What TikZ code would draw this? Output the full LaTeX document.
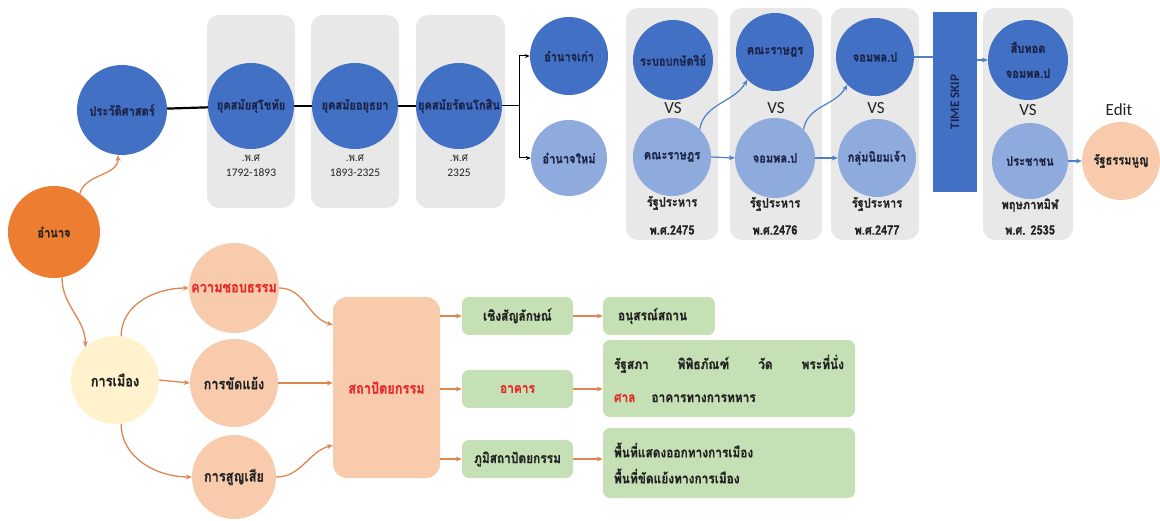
\documentclass[tikz,border=0pt]{standalone}
\usepackage{fontspec}
\setmainfont{Carlito}
\newfontfamily\thaifont[Script=Thai,FakeStretch=0.85,BoldFeatures={FakeBold=0.6}]{Loma}
\usetikzlibrary{arrows.meta}
\definecolor{dblue}{RGB}{66,112,196}
\definecolor{lblue}{RGB}{143,170,220}
\definecolor{boxgray}{RGB}{232,232,232}
\definecolor{orng}{RGB}{237,125,49}
\definecolor{peach}{RGB}{248,203,173}
\definecolor{pyellow}{RGB}{255,242,204}
\definecolor{lgreen}{RGB}{197,224,180}
\definecolor{navy}{RGB}{28,36,72}
\definecolor{oarrow}{RGB}{223,134,80}
\definecolor{barrow}{RGB}{79,127,200}
\definecolor{txtred}{RGB}{230,40,40}
\definecolor{dk}{RGB}{35,35,35}
\begin{document}
\begin{tikzpicture}[x=1pt,y=-1pt,
  thb/.style={font=\thaifont\bfseries\fontsize{13}{15}\selectfont},
  thbb/.style={font=\thaifont\bfseries\fontsize{15}{17}\selectfont},
  thbg/.style={font=\thaifont\bfseries\fontsize{14}{16}\selectfont},
  dcirc/.style={circle,fill=dblue,inner sep=0pt,thb,text=navy,align=center},
  lcirc/.style={circle,fill=lblue,inner sep=0pt,thb,text=navy,align=center},
  pcirc/.style={circle,fill=peach,inner sep=0pt,thb,text=dk},
  graybox/.style={fill=boxgray,rounded corners=12pt,inner sep=0pt},
  vstxt/.style={font=\fontsize{17}{19}\selectfont,text=dk},
  datetxt/.style={font=\fontsize{11.5}{15}\selectfont,text=dk,align=center},
  subtxt/.style={thb,text=dk},
  gbox/.style={fill=lgreen,rounded corners=7pt,thbg,text=dk,inner sep=0pt},
  oarr/.style={draw=oarrow,line width=1.3pt,-{Stealth[length=6pt,width=5pt]}},
  barr/.style={draw=barrow,line width=1.2pt,-{Stealth[length=6pt,width=5pt]}},
  karr/.style={draw=black,line width=1pt,-{Stealth[length=5pt,width=4pt]}}
]
\useasboundingbox (0,0) rectangle (1160,521);

% gray panels
\node[graybox,minimum width=88pt,minimum height=193pt] (g1) at (251,111.5) {};
\node[graybox,minimum width=88pt,minimum height=193pt] (g2) at (355,111.5) {};
\node[graybox,minimum width=89pt,minimum height=193pt] (g3) at (460.5,111.5) {};
\node[graybox,minimum width=92pt,minimum height=232pt] (g4) at (672,124) {};
\node[graybox,minimum width=92pt,minimum height=232pt] (g5) at (776,124) {};
\node[graybox,minimum width=88pt,minimum height=232pt] (g6) at (875,124) {};
\node[graybox,minimum width=90pt,minimum height=232pt] (g7) at (1028,124) {};

% left circles
\node[dcirc,minimum size=90pt] (prawat) at (122,110) {ประวัติศาสตร์};
\node[circle,fill=orng,inner sep=0pt,minimum size=92pt,thb,text=dk] (amnat) at (54,232) {อำนาจ};

% eras
\node[dcirc,minimum size=86pt] (sukho) at (251,106) {ยุคสมัยสุโขทัย};
\node[dcirc,minimum size=86pt] (ayut) at (355,106) {ยุคสมัยอยุธยา};
\node[dcirc,minimum size=86pt] (ratta) at (459,106) {ยุคสมัยรัตนโกสิน};
\node[datetxt] (d1) at (251,166) {{\thaifont .พ.ศ}\\1792-1893};
\node[datetxt] (d2) at (355,166) {{\thaifont .พ.ศ}\\1893-2325};
\node[datetxt] (d3) at (459,166) {{\thaifont .พ.ศ}\\2325};

\draw[line width=2.2pt] (prawat) -- (sukho);
\draw[line width=1.2pt] (sukho) -- (ayut);
\draw[line width=1.2pt] (ayut) -- (ratta);

% old / new power
\node[dcirc,minimum size=78pt] (kaw) at (569,56) {อำนาจเก่า};
\node[lcirc,minimum size=76pt] (mai) at (569,158) {อำนาจใหม่};
\coordinate (br) at (519,106);
\draw[line width=1pt] (ratta.east) -- (br);
\draw[karr] (br) |- (kaw.west);
\draw[karr] (br) |- (mai.west);

% panel 4
\node[dcirc,minimum size=80pt] (rabob) at (673,60) {ระบอบกษัตริย์};
\node[vstxt] (vs1) at (673,108) {VS};
\node[lcirc,minimum size=78pt] (kana1) at (672,157) {คณะราษฎร};
\node[subtxt] (rp1) at (672,203) {รัฐประหาร};
\node[subtxt] (ps1) at (672,230) {พ.ศ.2475};

% panel 5
\node[dcirc,minimum size=78pt] (kana2) at (775,52) {คณะราษฎร};
\node[vstxt] (vs2) at (776,108) {VS};
\node[lcirc,minimum size=80pt] (jom1) at (775,158) {จอมพล.ป};
\node[subtxt] (rp2) at (775,204) {รัฐประหาร};
\node[subtxt] (ps2) at (775,230) {พ.ศ.2476};

% panel 6
\node[dcirc,minimum size=78pt] (jom2) at (875,57) {จอมพล.ป};
\node[vstxt] (vs3) at (876,108) {VS};
\node[lcirc,minimum size=78pt] (klum) at (877,158) {กลุ่มนิยมเจ้า};
\node[subtxt] (rp3) at (877,204) {รัฐประหาร};
\node[subtxt] (ps3) at (877,230) {พ.ศ.2477};

\draw[barr] (kana1.east) -- (jom1.west);
\draw[barr] (kana1.45) to[out=80,in=-120] (kana2.-135);
\draw[barr] (jom1.east) -- (klum.west);
\draw[barr] (jom1.45) to[out=80,in=-120] (jom2.-135);

% time skip
\node[rotate=90,fill=dblue,minimum width=180pt,minimum height=44pt,inner sep=0pt,
  font=\bfseries\fontsize{13}{15}\selectfont,text=navy] (skip) at (955,102) {TIME SKIP};
\draw[draw=barrow,line width=1.2pt] (jom2.east) -- (jom2.east -| skip.north);

% panel 7
\node[dcirc,minimum size=80pt,font=\thaifont\bfseries\fontsize{13}{25}\selectfont] (suep) at (1028,60) {สืบทอด\\จอมพล.ป};
\node[vstxt] (vs4) at (1028,110) {VS};
\node[lcirc,minimum size=76pt] (pracha) at (1030,161) {ประชาชน};
\node[subtxt] (pt) at (1030,205) {พฤษภาทมิฬ};
\node[subtxt] (ps4) at (1030,230) {พ.ศ. 2535};
\draw[barr] (suep.west -| skip.south) -- (suep.west);

\node[vstxt] (edit) at (1119,110) {Edit};
\node[pcirc,minimum size=78pt] (rattha) at (1121,161) {รัฐธรรมนูญ};
\draw[barr] (pracha.east) -- (rattha.west);

\draw[oarr] (amnat.56) to[out=75,in=-90] (prawat.-95);

% bottom part
\node[circle,fill=pyellow,inner sep=0pt,minimum size=88pt,thbb,text=dk] (muang) at (115,380) {การเมือง};
\node[pcirc,minimum size=90pt,thbb,text=txtred] (chob) at (234,288) {ความชอบธรรม};
\node[pcirc,minimum size=88pt,thbb] (khat) at (234,383) {การขัดแย้ง};
\node[pcirc,minimum size=84pt,thbb] (sia) at (234,477) {การสูญเสีย};

\draw[oarr] (amnat.-80) to[out=-90,in=90] (muang.132);
\draw[oarr] (muang.82) to[out=90,in=180] (chob.west);
\draw[oarr] (muang.east) -- (khat.west);
\draw[oarr] (muang.-82) to[out=-90,in=180] (sia.west);

\node[fill=peach,rounded corners=14pt,minimum width=107pt,minimum height=181pt,inner sep=0pt,thbb,text=txtred] (satha) at (386.5,387.5) {สถาปัตยกรรม};

\draw[oarr] (chob.east) to[out=0,in=165] ([yshift=-28pt]satha.north west);
\draw[oarr] (khat.east) -- (khat.east -| satha.west);
\draw[oarr] (sia.east) to[out=0,in=195] ([yshift=33pt]satha.south west);

\node[gbox,minimum width=111pt,minimum height=38pt] (sym) at (517.5,316) {เชิงสัญลักษณ์};
\node[gbox,minimum width=111pt,minimum height=38pt,text=txtred] (arkhan) at (517.5,389) {อาคาร};
\node[gbox,minimum width=111pt,minimum height=38pt] (phumi) at (517.5,459) {ภูมิสถาปัตยกรรม};

\draw[oarr] (sym.west -| satha.east) -- (sym.west);
\draw[oarr] (arkhan.west -| satha.east) -- (arkhan.west);
\draw[oarr] (phumi.west -| satha.east) -- (phumi.west);

\node[gbox,minimum width=112pt,minimum height=38pt,text width=82pt,align=left,inner xsep=15pt] (anu) at (659,316) {อนุสรณ์สถาน};
\node[gbox,minimum width=252pt,minimum height=77pt,text width=230pt,align=left,inner xsep=11pt,
  font=\thaifont\bfseries\fontsize{14}{33}\selectfont] (big2) at (729,378.5)
  {รัฐสภา\hfill พิพิธภัณฑ์\hfill วัด\hfill พระที่นั่ง\\{\color{txtred}ศาล}\hspace{16pt}อาคารทางการทหาร};
\node[gbox,minimum width=252pt,minimum height=70pt,text width=230pt,align=left,inner xsep=11pt,
  font=\thaifont\bfseries\fontsize{14}{26}\selectfont] (big3) at (729,463)
  {พื้นที่แสดงออกทางการเมือง\\พื้นที่ขัดแย้งทางการเมือง};

\draw[oarr] (sym.east) -- (anu.west);
\draw[oarr] (arkhan.east) -- (arkhan.east -| big2.west);
\draw[oarr] (phumi.east) -- (phumi.east -| big3.west);
\end{tikzpicture}
\end{document}
